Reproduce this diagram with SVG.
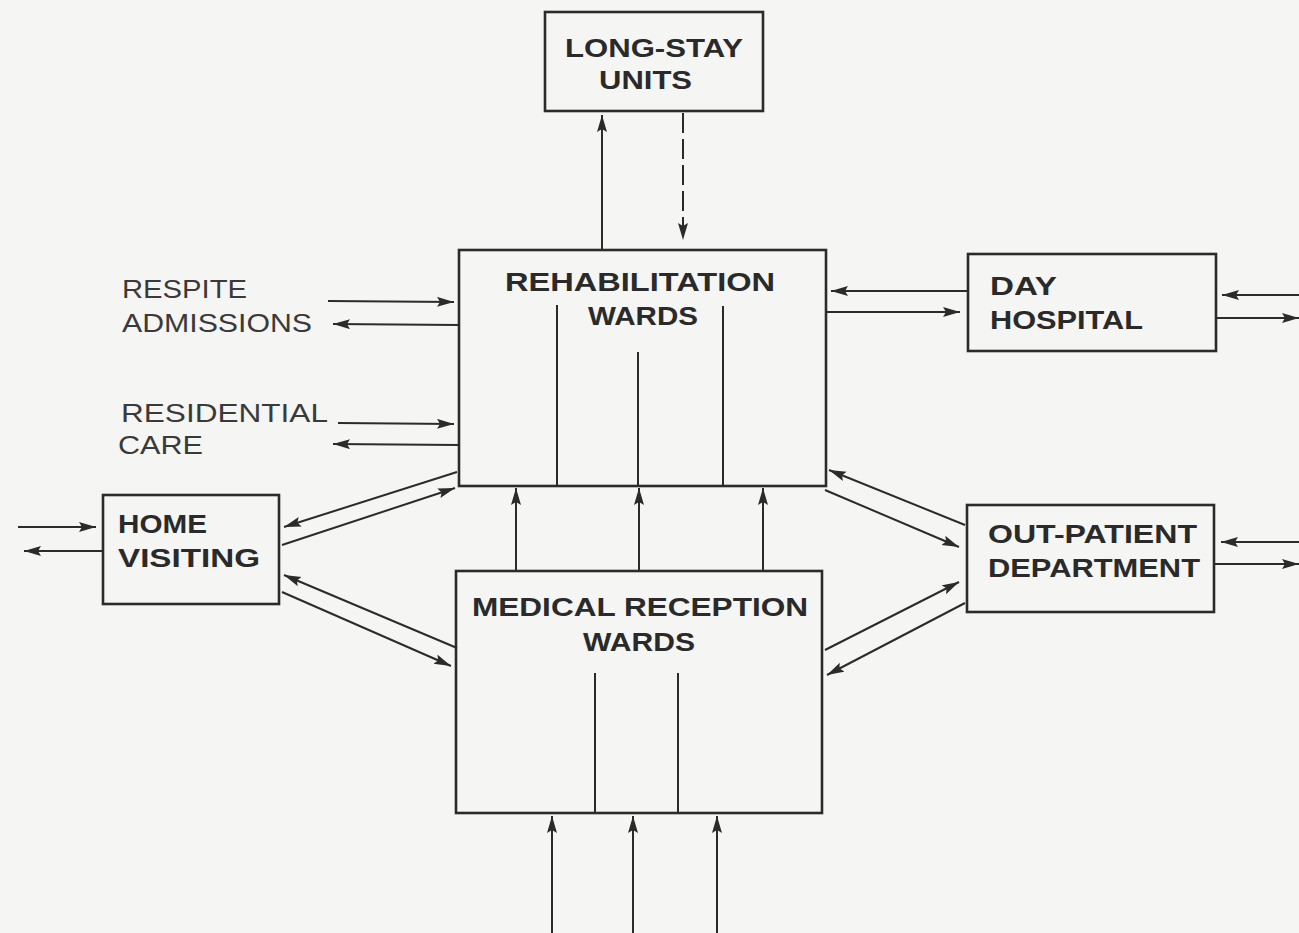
<svg xmlns="http://www.w3.org/2000/svg" width="1299" height="933" viewBox="0 0 1299 933">
<defs>
<marker id="ah" markerUnits="userSpaceOnUse" markerWidth="18" markerHeight="12" refX="17" refY="5" orient="auto">
<path d="M0,0 L17,5 L0,10 L3,5 z" fill="#2b2b2b"/>
</marker>
</defs>
<style>
.box{fill:none;stroke:#2b2b2b;stroke-width:2.6}
.bt{font-family:"Liberation Sans",Arial,sans-serif;font-weight:700;font-size:26px;fill:#2a2a2a}
.lt{font-family:"Liberation Sans",Arial,sans-serif;font-weight:400;font-size:26px;fill:#3a3a3a}
.c{stroke:#2b2b2b;stroke-width:2;fill:none;marker-end:url(#ah)}
.d{stroke-dasharray:20 6}
.in{stroke:#2b2b2b;stroke-width:2;fill:none}
</style>
<rect width="1299" height="933" fill="#f5f5f3"/>

<g id="long-stay">
<rect class="box" x="545" y="12" width="218" height="99"/>
<text class="bt" x="565" y="57" textLength="178" lengthAdjust="spacingAndGlyphs">LONG-STAY</text>
<text class="bt" x="599" y="89" textLength="93" lengthAdjust="spacingAndGlyphs">UNITS</text>
</g>

<g id="rehab">
<rect class="box" x="459" y="250" width="367" height="236"/>
<text class="bt" x="505" y="291" textLength="270" lengthAdjust="spacingAndGlyphs">REHABILITATION</text>
<text class="bt" x="588" y="325" textLength="110" lengthAdjust="spacingAndGlyphs">WARDS</text>
<line class="in" x1="557" y1="305" x2="557" y2="485"/>
<line class="in" x1="638" y1="352" x2="638" y2="485"/>
<line class="in" x1="723" y1="306" x2="723" y2="485"/>
</g>

<g id="medical">
<rect class="box" x="456" y="571" width="366" height="242"/>
<text class="bt" x="472" y="616" textLength="336" lengthAdjust="spacingAndGlyphs">MEDICAL  RECEPTION</text>
<text class="bt" x="583" y="651" textLength="112" lengthAdjust="spacingAndGlyphs">WARDS</text>
<line class="in" x1="595" y1="673" x2="595" y2="812"/>
<line class="in" x1="678" y1="673" x2="678" y2="812"/>
</g>

<g id="day-hospital">
<rect class="box" x="968" y="254" width="248" height="97"/>
<text class="bt" x="990" y="295" textLength="67" lengthAdjust="spacingAndGlyphs">DAY</text>
<text class="bt" x="990" y="329" textLength="153" lengthAdjust="spacingAndGlyphs">HOSPITAL</text>
</g>

<g id="out-patient">
<rect class="box" x="967" y="505" width="247" height="107"/>
<text class="bt" x="988" y="543" textLength="209" lengthAdjust="spacingAndGlyphs">OUT-PATIENT</text>
<text class="bt" x="988" y="577" textLength="212" lengthAdjust="spacingAndGlyphs">DEPARTMENT</text>
</g>

<g id="home-visiting">
<rect class="box" x="103" y="495" width="176" height="109"/>
<text class="bt" x="118" y="533" textLength="89" lengthAdjust="spacingAndGlyphs">HOME</text>
<text class="bt" x="118" y="567" textLength="142" lengthAdjust="spacingAndGlyphs">VISITING</text>
</g>

<g id="respite">
<text class="lt" x="122" y="298" textLength="125" lengthAdjust="spacingAndGlyphs">RESPITE</text>
<text class="lt" x="122" y="332" textLength="190" lengthAdjust="spacingAndGlyphs">ADMISSIONS</text>
</g>

<g id="residential">
<text class="lt" x="121" y="422" textLength="207" lengthAdjust="spacingAndGlyphs">RESIDENTIAL</text>
<text class="lt" x="118" y="454" textLength="85" lengthAdjust="spacingAndGlyphs">CARE</text>
</g>

<g id="connectors">
<line class="c" x1="602" y1="249" x2="602" y2="115"/>
<line class="c d" x1="683" y1="113" x2="683" y2="240"/>

<line class="c" x1="328" y1="301" x2="454" y2="302"/>
<line class="c" x1="459" y1="325" x2="333" y2="324"/>
<line class="c" x1="338" y1="423" x2="454" y2="424"/>
<line class="c" x1="459" y1="445" x2="333" y2="444"/>

<line class="c" x1="18" y1="527" x2="96" y2="527"/>
<line class="c" x1="102" y1="551" x2="24" y2="551"/>

<line class="c" x1="457" y1="472" x2="284" y2="527"/>
<line class="c" x1="282" y1="545" x2="455" y2="488"/>
<line class="c" x1="457" y1="648" x2="284" y2="575"/>
<line class="c" x1="282" y1="592" x2="451" y2="666"/>

<line class="c" x1="967" y1="291" x2="831" y2="291"/>
<line class="c" x1="826" y1="312" x2="960" y2="312"/>
<line class="c" x1="1299" y1="295" x2="1222" y2="295"/>
<line class="c" x1="1216" y1="318" x2="1299" y2="318"/>

<line class="c" x1="965" y1="525" x2="829" y2="470"/>
<line class="c" x1="825" y1="490" x2="959" y2="547"/>
<line class="c" x1="825" y1="650" x2="959" y2="582"/>
<line class="c" x1="965" y1="603" x2="827" y2="675"/>

<line class="c" x1="1299" y1="542" x2="1221" y2="542"/>
<line class="c" x1="1214" y1="564" x2="1299" y2="564"/>

<line class="c" x1="516" y1="570" x2="516" y2="488"/>
<line class="c" x1="639" y1="570" x2="639" y2="488"/>
<line class="c" x1="763" y1="570" x2="763" y2="488"/>

<line class="c" x1="552" y1="933" x2="552" y2="816"/>
<line class="c" x1="633" y1="933" x2="633" y2="816"/>
<line class="c" x1="717" y1="933" x2="717" y2="816"/>
</g>
</svg>
